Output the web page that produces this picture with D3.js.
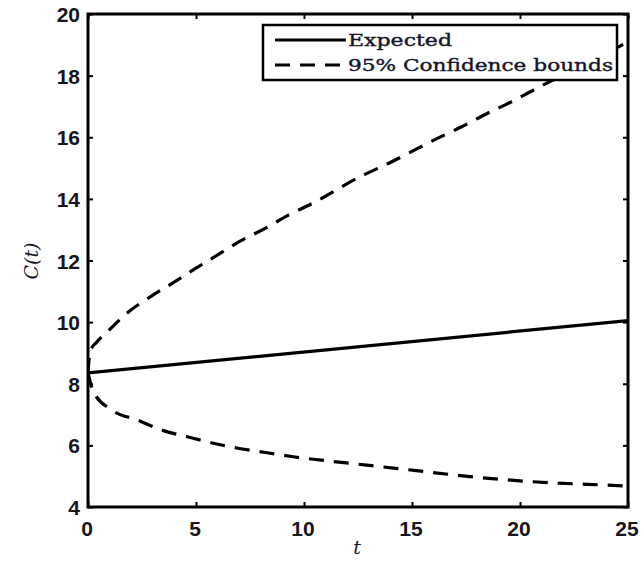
<!DOCTYPE html>
<html>
<head>
<meta charset="utf-8">
<script src="https://cdn.jsdelivr.net/npm/d3@7"></script>
<style>
  body { margin: 0; background: #fff; }
  .tick-label { font-family: "Liberation Sans", Arial, sans-serif; font-weight: bold; font-size: 21px; fill: #151520; }
  .serif { font-family: "DejaVu Serif", "Liberation Serif", serif; fill: #15152a; }
</style>
</head>
<body>
<div id="app"></div>
<script>
// values
const xTicks = [0, 5, 10, 15, 20, 25]
const yTicks = [4, 6, 8, 10, 12, 14, 16, 18, 20]

const expectedT = [0, 25]
const expectedC = [8.35, 10.05]

const upperT = [0, 0.1, 0.4, 0.9, 1.8, 2.9, 3.9, 5, 6, 7, 8.2, 9.3, 10.4, 12.6, 13.9, 16.2, 17.3, 18.5, 19.6, 20.7, 22.5, 23.8, 25]
const upperC = [8.35, 9.05, 9.35, 9.69, 10.29, 10.83, 11.26, 11.75, 12.18, 12.61, 13.04, 13.48, 13.86, 14.72, 15.15, 15.97, 16.34, 16.78, 17.15, 17.56, 18.2, 18.65, 19.1]

const lowerT = [0, 0.25, 1.1, 2.3, 3.4, 4.6, 5.8, 7, 8.3, 9.5, 10.8, 12.9, 15.2, 17.8, 20.6, 24, 25]
const lowerC = [8.35, 7.74, 7.15, 6.82, 6.5, 6.28, 6.07, 5.9, 5.76, 5.63, 5.52, 5.36, 5.18, 4.98, 4.82, 4.71, 4.68]

const legendLabels = ['Expected', '95% Confidence bounds']

const width = 644
const height = 562
const margin = {left: 88, right: 16, top: 14, bottom: 55}

const svg = d3.select('#app').append('svg')
    .attr('width', width)
    .attr('height', height)

const xScale = d3.scaleLinear().domain([0, 25]).range([margin.left, width - margin.right])
const yScale = d3.scaleLinear().domain([4, 20]).range([height - margin.bottom, margin.top])

svg.append('clipPath').attr('id', 'plot-clip')
    .append('rect')
    .attr('x', xScale(0)).attr('y', yScale(20))
    .attr('width', xScale(25) - xScale(0))
    .attr('height', yScale(4) - yScale(20))

const line = d3.line()
    .x(d => xScale(d[0]))
    .y(d => yScale(d[1]))
    .curve(d3.curveMonotoneX)

const series = [
    {pts: d3.zip(expectedT, expectedC), dash: null},
    {pts: d3.zip(upperT, upperC), dash: '15,10'},
    {pts: d3.zip(lowerT, lowerC), dash: '15,10'}
]

svg.append('g').attr('clip-path', 'url(#plot-clip)')
    .selectAll('path')
    .data(series).enter()
    .append('path')
    .attr('fill', 'none')
    .attr('stroke', '#000')
    .attr('stroke-width', 3.2)
    .attr('stroke-dasharray', d => d.dash)
    .attr('d', d => line(d.pts))

// axes, ticks pointing inwards like matlab
function styleAxis(g){
    g.select('.domain').remove()
    g.selectAll('.tick line').attr('stroke', '#000').attr('stroke-width', 2)
}
svg.append('g').attr('transform', `translate(0,${yScale(4)})`)
    .call(d3.axisBottom(xScale).tickValues(xTicks).tickSizeInner(-5).tickSizeOuter(0).tickFormat(''))
    .call(styleAxis)
svg.append('g').attr('transform', `translate(0,${yScale(20)})`)
    .call(d3.axisTop(xScale).tickValues(xTicks).tickSizeInner(-5).tickSizeOuter(0).tickFormat(''))
    .call(styleAxis)
svg.append('g').attr('transform', `translate(${xScale(0)},0)`)
    .call(d3.axisLeft(yScale).tickValues(yTicks).tickSizeInner(-5).tickSizeOuter(0).tickFormat(''))
    .call(styleAxis)
svg.append('g').attr('transform', `translate(${xScale(25)},0)`)
    .call(d3.axisRight(yScale).tickValues(yTicks).tickSizeInner(-5).tickSizeOuter(0).tickFormat(''))
    .call(styleAxis)

svg.append('rect')
    .attr('x', xScale(0)).attr('y', yScale(20))
    .attr('width', xScale(25) - xScale(0))
    .attr('height', yScale(4) - yScale(20))
    .attr('fill', 'none')
    .attr('stroke', '#000')
    .attr('stroke-width', 3)

svg.selectAll('text.xlab')
    .data(xTicks).enter()
    .append('text')
    .attr('class', 'tick-label xlab')
    .attr('x', d => xScale(d) - 1)
    .attr('y', yScale(4) + 29)
    .attr('text-anchor', 'middle')
    .text(d => d)

svg.selectAll('text.ylab')
    .data(yTicks).enter()
    .append('text')
    .attr('class', 'tick-label ylab')
    .attr('x', xScale(0) - 8)
    .attr('y', d => yScale(d) + 8)
    .attr('text-anchor', 'end')
    .text(d => d)

svg.append('text')
    .attr('class', 'serif')
    .attr('x', 357).attr('y', 554)
    .attr('text-anchor', 'middle')
    .style('font-style', 'italic')
    .style('font-size', '19px')
    .text('t')

svg.append('text')
    .attr('class', 'serif')
    .attr('transform', 'translate(38,261) rotate(-90)')
    .attr('text-anchor', 'middle')
    .style('font-style', 'italic')
    .style('font-size', '19px')
    .text('C(t)')

// legend
const legend = svg.append('g')
legend.append('rect')
    .attr('x', 263).attr('y', 25)
    .attr('width', 354).attr('height', 55)
    .attr('fill', '#fff')
    .attr('stroke', '#000')
    .attr('stroke-width', 2.5)

const legendRows = legend.selectAll('g')
    .data(legendLabels).enter()
    .append('g')
    .attr('transform', (d, i) => `translate(0,${40 + i * 25})`)

legendRows.append('line')
    .attr('x1', 275).attr('x2', 346)
    .attr('stroke', '#000')
    .attr('stroke-width', 3.2)
    .attr('stroke-dasharray', (d, i) => i == 0 ? null : '15,10')

legendRows.append('text')
    .attr('class', 'serif')
    .attr('x', 348).attr('y', 6)
    .style('font-size', '17px')
    .style('stroke', '#15152a')
    .style('stroke-width', 0.4)
    .attr('textLength', (d, i) => i == 0 ? 104 : 265)
    .attr('lengthAdjust', 'spacingAndGlyphs')
    .text(d => d)
</script>
</body>
</html>
